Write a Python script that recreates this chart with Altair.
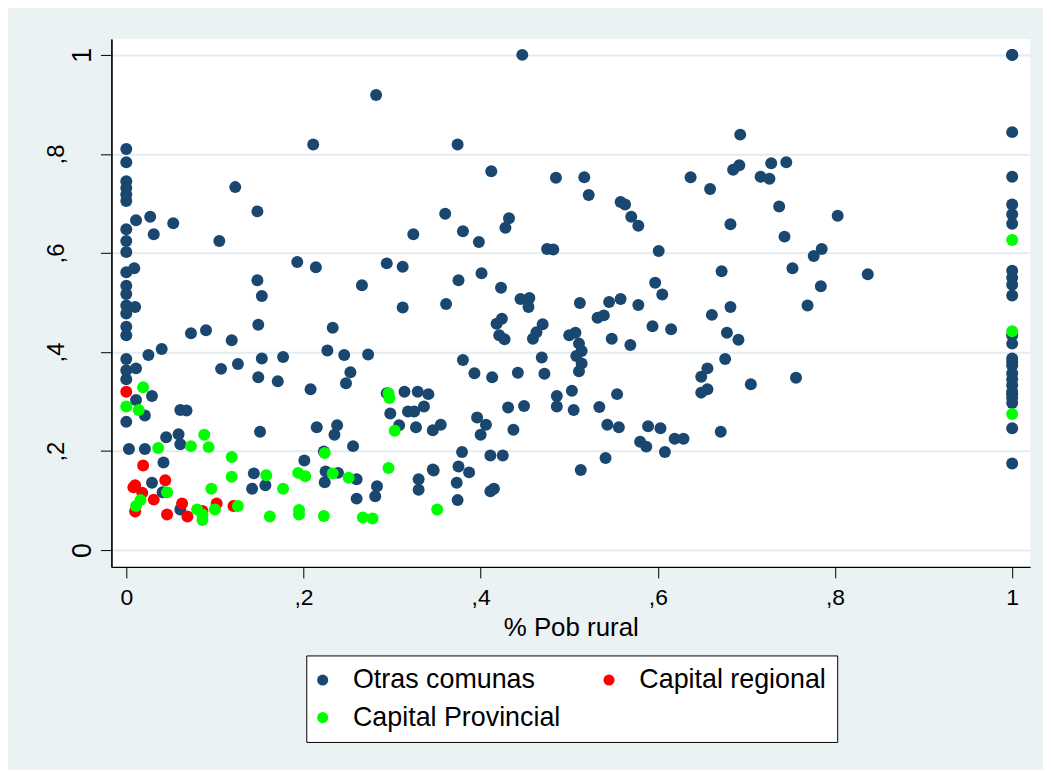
import altair as alt
import pandas as pd

# ---- data ----
otras_x = [
    0, 0, 0, 0, 0, 0, 0, 0, 0, 0, 0, 0, 0, 0, 0, 0, 0, 0, 0, 0,
    0.003, 0.011, 0.027, 0.053, 0.031, 0.009, 0.010, 0.011, 0.011, 0.025, 0.040, 0.029, 0.021, 0.021,
    0.042, 0.029, 0.041, 0.061, 0.045, 0.059, 0.061, 0.061, 0.068,
    0.073, 0.090, 0.119, 0.107, 0.126,
    0.123, 0.148, 0.105, 0.148, 0.153, 0.149, 0.153, 0.177, 0.149, 0.171, 0.151,
    0.211, 0.282, 0.193, 0.214, 0.266, 0.294, 0.312, 0.324, 0.312, 0.361, 0.360,
    0.233, 0.227, 0.246, 0.273, 0.253, 0.248, 0.208,
    0.215, 0.238, 0.235, 0.256, 0.201, 0.223, 0.144, 0.142, 0.157, 0.225, 0.239, 0.224, 0.260, 0.260, 0.283, 0.281,
    0.330, 0.330, 0.346, 0.298, 0.294, 0.314, 0.329, 0.341, 0.318, 0.325, 0.336, 0.308, 0.327, 0.346, 0.355,
    0.447, 0.374, 0.412, 0.485, 0.517, 0.522, 0.637,
    0.432, 0.428, 0.380, 0.398, 0.558, 0.563, 0.570, 0.578, 0.475, 0.482, 0.601,
    0.375, 0.401, 0.423, 0.445, 0.455, 0.454, 0.512, 0.545, 0.558, 0.578, 0.597, 0.605,
    0.418, 0.424, 0.421, 0.427, 0.470, 0.463, 0.459, 0.500, 0.507, 0.511, 0.514, 0.508, 0.514, 0.511,
    0.532, 0.539, 0.548, 0.569, 0.594, 0.615,
    0.380, 0.393, 0.413, 0.442, 0.469, 0.472, 0.486, 0.486, 0.503, 0.505, 0.534, 0.554, 0.431, 0.449,
    0.396, 0.406, 0.400, 0.437, 0.543, 0.556, 0.589, 0.603, 0.580, 0.587, 0.608, 0.619, 0.629, 0.541,
    0.513, 0.379, 0.411, 0.425, 0.347, 0.375, 0.387, 0.373, 0.374, 0.411, 0.415,
    0.693, 0.659, 0.685, 0.692, 0.716, 0.726, 0.728, 0.745, 0.737, 0.803, 0.682, 0.743, 0.776, 0.785,
    0.672, 0.752, 0.837, 0.784, 0.769, 0.682, 0.661, 0.678, 0.691, 0.676, 0.656, 0.649, 0.656, 0.649,
    0.705, 0.756, 0.671,
    1, 1, 1, 1, 1, 1, 1, 1, 1, 1, 1, 1, 1, 1, 1, 1, 1, 1, 1, 1, 1, 1, 1, 1, 1, 1,
]
otras_y = [
    0.810, 0.783, 0.745, 0.731, 0.718, 0.705, 0.648, 0.624, 0.602, 0.561, 0.534, 0.517, 0.494, 0.478, 0.451, 0.434, 0.386, 0.363, 0.345, 0.259,
    0.204, 0.666, 0.673, 0.660, 0.638, 0.569, 0.491, 0.367, 0.303, 0.394, 0.406, 0.311, 0.272, 0.204,
    0.177, 0.136, 0.117, 0.082, 0.228, 0.234, 0.214, 0.283, 0.282,
    0.438, 0.444, 0.424, 0.366, 0.376,
    0.733, 0.684, 0.624, 0.545, 0.513, 0.455, 0.387, 0.390, 0.349, 0.341, 0.239,
    0.819, 0.919, 0.582, 0.571, 0.535, 0.579, 0.572, 0.638, 0.490, 0.497, 0.679,
    0.449, 0.403, 0.394, 0.395, 0.359, 0.337, 0.325,
    0.248, 0.252, 0.233, 0.210, 0.181, 0.199, 0.155, 0.124, 0.131, 0.159, 0.156, 0.137, 0.143, 0.104, 0.129, 0.109,
    0.143, 0.122, 0.163, 0.276, 0.317, 0.320, 0.320, 0.315, 0.280, 0.280, 0.290, 0.252, 0.248, 0.242, 0.253,
    1.000, 0.819, 0.765, 0.752, 0.753, 0.717, 0.753,
    0.670, 0.651, 0.644, 0.622, 0.703, 0.698, 0.673, 0.655, 0.608, 0.607, 0.604,
    0.545, 0.559, 0.530, 0.507, 0.509, 0.491, 0.499, 0.501, 0.507, 0.495, 0.540, 0.516,
    0.457, 0.467, 0.434, 0.426, 0.456, 0.440, 0.427, 0.434, 0.439, 0.417, 0.402, 0.392, 0.377, 0.361,
    0.469, 0.474, 0.427, 0.414, 0.452, 0.446,
    0.384, 0.357, 0.349, 0.358, 0.389, 0.356, 0.311, 0.290, 0.322, 0.283, 0.289, 0.315, 0.288, 0.291,
    0.268, 0.253, 0.233, 0.243, 0.253, 0.248, 0.250, 0.246, 0.219, 0.209, 0.198, 0.225, 0.225, 0.186,
    0.162, 0.198, 0.191, 0.191, 0.161, 0.169, 0.157, 0.136, 0.101, 0.119, 0.124,
    0.839, 0.729, 0.768, 0.777, 0.754, 0.750, 0.781, 0.783, 0.694, 0.675, 0.658, 0.633, 0.594, 0.608,
    0.563, 0.569, 0.557, 0.533, 0.494, 0.491, 0.475, 0.439, 0.425, 0.386, 0.367, 0.350, 0.325, 0.318,
    0.335, 0.348, 0.239,
    1.000, 1.000, 1.000, 0.844, 0.754, 0.698, 0.678, 0.659, 0.564, 0.550, 0.536, 0.514, 0.434, 0.417,
    0.387, 0.380, 0.373, 0.357, 0.345, 0.333, 0.320, 0.315, 0.307, 0.297, 0.246, 0.175,
]

regional_x = [0.0, 0.019, 0.010, 0.018, 0.008, 0.044, 0.031, 0.010, 0.046, 0.063, 0.069, 0.086, 0.102, 0.121]
regional_y = [0.320, 0.171, 0.131, 0.116, 0.127, 0.141, 0.102, 0.078, 0.072, 0.094, 0.068, 0.079, 0.094, 0.089]

provincial_x = [
    0.019, 0.0, 0.014, 0.036, 0.073, 0.088, 0.093, 0.119, 0.119, 0.158, 0.177, 0.096, 0.046, 0.016,
    0.011, 0.080, 0.086, 0.086, 0.100, 0.126, 0.162, 0.195, 0.195, 0.223, 0.267, 0.278, 0.194, 0.202,
    0.224, 0.233, 0.251, 0.296, 0.297, 0.303, 0.296, 0.351, 1.0, 1.0, 1.0,
]
provincial_y = [
    0.329, 0.290, 0.283, 0.206, 0.210, 0.233, 0.208, 0.188, 0.148, 0.151, 0.124, 0.124, 0.117, 0.101,
    0.089, 0.082, 0.072, 0.061, 0.082, 0.089, 0.068, 0.081, 0.072, 0.069, 0.066, 0.064, 0.156, 0.149,
    0.196, 0.155, 0.146, 0.317, 0.307, 0.241, 0.166, 0.082, 0.626, 0.442, 0.275,
]

series_names = ["Otras comunas", "Capital regional", "Capital Provincial"]
series_colors = ["#1A476F", "#FF0000", "#00FF00"]
# legend is filled column by column: this order gives rows
# "Otras comunas | Capital regional" and "Capital Provincial"
legend_order = ["Otras comunas", "Capital Provincial", "Capital regional"]
legend_colors = ["#1A476F", "#00FF00", "#FF0000"]

x_ticks = [0, 0.2, 0.4, 0.6, 0.8, 1]
y_ticks_inner = [0.2, 0.4, 0.6, 0.8]
y_ticks_outer = [0, 1]

rows = []
for i, (xs, ys) in enumerate([(otras_x, otras_y), (regional_x, regional_y), (provincial_x, provincial_y)]):
    for xv, yv in zip(xs, ys):
        rows.append({"x": xv, "y": yv, "grupo": series_names[i], "ord": i})
df = pd.DataFrame(rows)

FONT = "Liberation Sans"
GRID = "#E3ECEF"
label_expr = "datum.value == 0 ? '0' : datum.value == 1 ? '1' : ',' + round(datum.value * 10)"

xscale = alt.Scale(domain=[-0.0168, 1.0202], nice=False, zero=False)
yscale = alt.Scale(domain=[-0.034, 1.032], nice=False, zero=False)

points = alt.Chart(df).mark_circle(size=145, opacity=1).encode(
    x=alt.X("x:Q", scale=xscale, axis=alt.Axis(
        values=x_ticks, labelExpr=label_expr, title="% Pob rural", grid=False,
        domainColor="black", domainWidth=1.2, tickColor="black", tickSize=11, tickWidth=1,
        labelFont=FONT, labelFontSize=23, labelColor="black", labelPadding=9,
        titleFont=FONT, titleFontSize=26, titleFontWeight="normal", titleColor="black", titlePadding=5,
    )),
    y=alt.Y("y:Q", scale=yscale, axis=alt.Axis(
        orient="left", values=y_ticks_inner, labelExpr=label_expr, title=None,
        grid=True, gridColor=GRID, gridWidth=2,
        domainColor="black", domainWidth=1.2, tickColor="black", tickSize=11, tickWidth=1,
        labelFont=FONT, labelFontSize=24, labelColor="black", labelAngle=270,
        labelAlign="center", labelBaseline="alphabetic", labelPadding=37,
    )),
    color=alt.Color("grupo:N", scale=alt.Scale(domain=legend_order, range=legend_colors),
                    legend=alt.Legend(title=None, orient="none", legendX=196, legendY=620, columns=2)),
    order=alt.Order("ord:Q"),
)

outer_axis = alt.Chart(df).mark_point(opacity=0).encode(
    y=alt.Y("y:Q", scale=yscale, axis=alt.Axis(
        orient="left", values=y_ticks_outer, labelExpr=label_expr, title=None,
        grid=True, gridColor=GRID, gridWidth=2,
        domainColor="black", domainWidth=1.2, tickColor="black", tickSize=11, tickWidth=1,
        labelFont=FONT, labelFontSize=27, labelColor="black", labelAngle=270,
        labelAlign="center", labelBaseline="alphabetic", labelPadding=10,
    )),
)

chart = alt.layer(outer_axis, points).resolve_axis(y="independent").properties(
    width=924, height=531,
    padding={"left": 104, "top": 29, "right": 13, "bottom": 202},
    autosize=alt.AutoSizeParams(type="none"),
    background="#EAF2F3",
).configure_view(
    fill="white", stroke=None,
).configure_legend(
    fillColor="white", strokeColor="black", strokeWidth=1, padding=11,
    labelFont=FONT, labelFontSize=27, labelColor="black", labelOffset=17,
    symbolType="circle", symbolSize=125, symbolStrokeWidth=0, symbolOpacity=1,
    symbolOffset=-8,
    columnPadding=42, rowPadding=10, labelLimit=400,
)

chart.save("out.html", embed_options={"renderer": "svg", "actions": False})
